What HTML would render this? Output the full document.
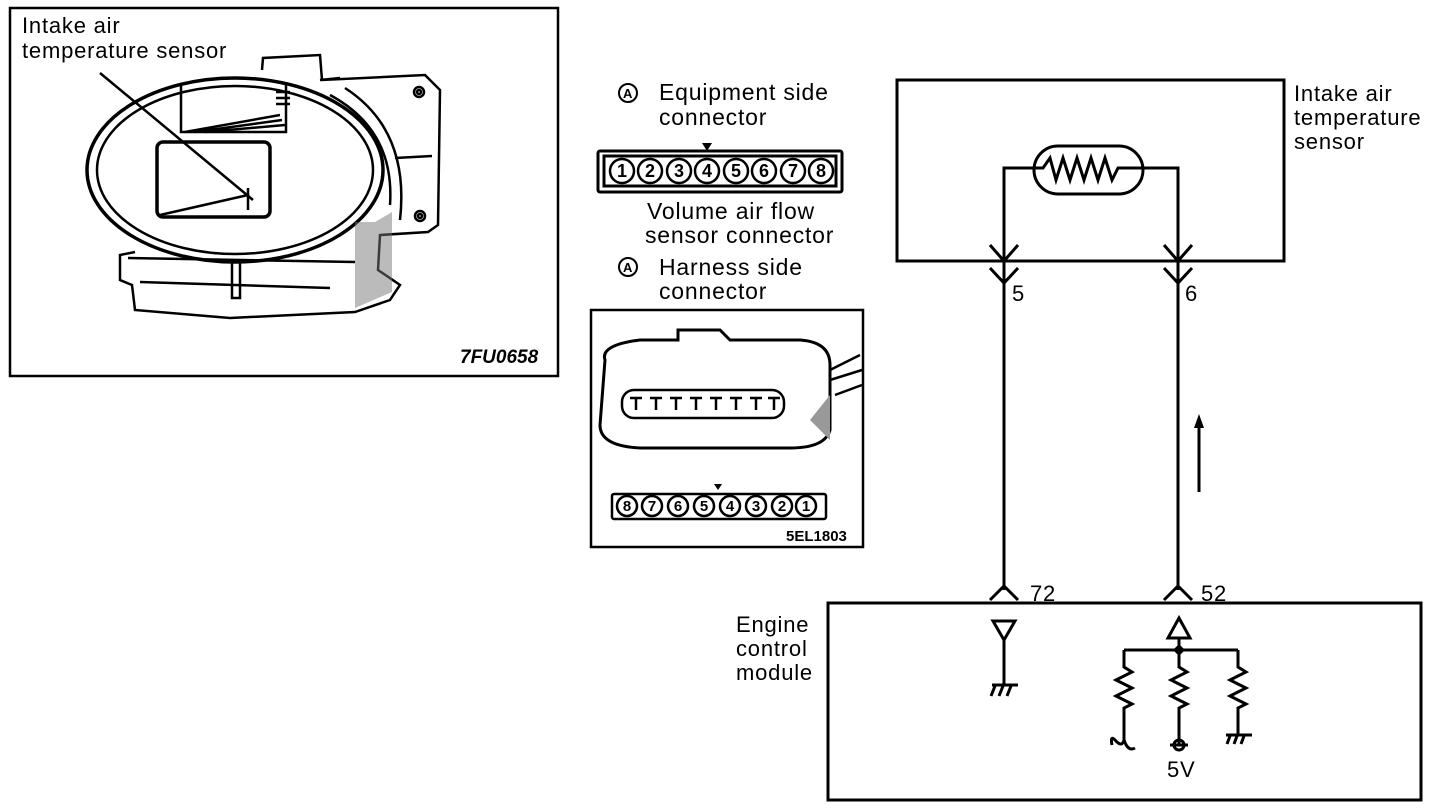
<!DOCTYPE html>
<html><head><meta charset="utf-8"><style>
html,body{margin:0;padding:0;background:#fff;}
svg{display:block;}
text{font-family:"Liberation Sans",sans-serif;fill:#000;}
</style></head><body>
<svg width="1440" height="808" viewBox="0 0 1440 808" xmlns="http://www.w3.org/2000/svg">
<g fill="none" stroke="#000" stroke-width="2.5">
<rect x="10" y="8" width="548" height="368"/>
<path d="M262 70 L263 58 L320 55 L322 80 L425 75 L440 90 L438 225 L428 232 L380 235 L378 270 L400 285 L390 300 L355 312 L230 318 L135 310 L132 285 L120 280 L120 255 L135 252"/>
<path d="M320 80 L340 78"/>
<ellipse cx="235" cy="170" rx="148" ry="92" stroke-width="3.5"/>
<ellipse cx="235" cy="170" rx="138" ry="84"/>
<path d="M330 95 Q395 130 390 205"/>
<path d="M345 88 Q410 130 400 220"/>
<rect x="157" y="142" width="113" height="75" rx="6" stroke-width="3.5"/>
<path d="M181 86 L181 132 L286 132 L286 82"/>
<path d="M185 132 L280 115 M195 132 L282 120 M205 132 L285 125"/>
<path d="M276 92 L290 92 M276 98 L290 98 M276 104 L290 104"/>
<circle cx="419" cy="92" r="5"/><circle cx="419" cy="92" r="2"/>
<circle cx="420" cy="216" r="5"/><circle cx="420" cy="216" r="2"/>
<path d="M395 158 L432 156"/>
<path d="M232 262 L232 298 L240 298 L240 262"/>
<path d="M128 258 L355 262 M140 282 L330 288"/>
<path d="M100 73 L253 200"/>
<path d="M160 215 L248 195 M248 188 L248 210"/>
</g>
<g fill="#777"><path d="M355 222 L375 222 L392 212 L392 292 L355 308 Z" opacity="0.5"/></g>
<g font-size="22" letter-spacing="0.8">
<text x="22" y="33">Intake air</text>
<text x="22" y="58">temperature sensor</text>
</g>
<text x="460" y="363" font-size="19" font-weight="bold" font-style="italic">7FU0658</text>

<g fill="none" stroke="#000" stroke-width="2">
<circle cx="628" cy="93" r="9"/><circle cx="628" cy="267" r="9"/>
</g>
<text x="623" y="98" font-size="13" font-weight="bold">A</text>
<text x="623" y="272" font-size="13" font-weight="bold">A</text>
<g font-size="23" letter-spacing="0.8">
<text x="659" y="100">Equipment side</text>
<text x="659" y="125">connector</text>
<text x="647" y="219">Volume air flow</text>
<text x="645" y="243">sensor connector</text>
<text x="659" y="275">Harness side</text>
<text x="659" y="299">connector</text>
</g>

<g fill="none" stroke="#000" stroke-width="3">
<rect x="598" y="151" width="244" height="41" rx="2"/>
<rect x="604" y="156" width="232" height="30"/>
</g>
<path d="M702 143 L712 143 L707 151 Z" fill="#000"/>
<g fill="none" stroke="#000" stroke-width="2.5">
<circle cx="622" cy="171" r="12"/><circle cx="650" cy="171" r="12"/><circle cx="679" cy="171" r="12"/><circle cx="707" cy="171" r="12"/>
<circle cx="736" cy="171" r="12"/><circle cx="764" cy="171" r="12"/><circle cx="793" cy="171" r="12"/><circle cx="821" cy="171" r="12"/>
</g>
<g font-size="18" text-anchor="middle" font-weight="bold">
<text x="622" y="177">1</text><text x="650" y="177">2</text><text x="679" y="177">3</text><text x="707" y="177">4</text>
<text x="736" y="177">5</text><text x="764" y="177">6</text><text x="793" y="177">7</text><text x="821" y="177">8</text>
</g>

<g fill="none" stroke="#000" stroke-width="2.5">
<rect x="591" y="310" width="272" height="237"/>
<path d="M605 360 Q600 345 640 340 L678 340 L678 330 L720 330 L730 340 L800 340 Q830 342 830 365 L830 430 Q825 448 790 448 L640 448 Q600 446 600 425 Z" stroke-width="3"/>
<rect x="622" y="390" width="162" height="28" rx="12"/>
<path d="M830 370 L860 355 M830 380 L862 370 M835 395 L862 385"/>
<path d="M630 398h12m-6 0v12 M650 398h12m-6 0v12 M670 398h12m-6 0v12 M690 398h12m-6 0v12 M710 398h12m-6 0v12 M730 398h12m-6 0v12 M750 398h12m-6 0v12 M768 398h12m-6 0v12"/>
<rect x="612" y="494" width="214" height="25" rx="2"/>
</g>
<path d="M810 420 L830 395 L830 440 Z" fill="#999"/>
<path d="M714 484 L722 484 L718 490 Z" fill="#000"/>
<g fill="none" stroke="#000" stroke-width="2.5">
<circle cx="627" cy="506" r="10"/><circle cx="652" cy="506" r="10"/><circle cx="678" cy="506" r="10"/><circle cx="704" cy="506" r="10"/>
<circle cx="730" cy="506" r="10"/><circle cx="756" cy="506" r="10"/><circle cx="782" cy="506" r="10"/><circle cx="806" cy="506" r="10"/>
</g>
<g font-size="15" text-anchor="middle" font-weight="bold">
<text x="627" y="511">8</text><text x="652" y="511">7</text><text x="678" y="511">6</text><text x="704" y="511">5</text>
<text x="730" y="511">4</text><text x="756" y="511">3</text><text x="782" y="511">2</text><text x="806" y="511">1</text>
</g>
<text x="786" y="541" font-size="15" font-weight="bold">5EL1803</text>

<g fill="none" stroke="#000" stroke-width="3">
<rect x="897" y="80" width="387" height="181"/>
<rect x="1034" y="146" width="109" height="48" rx="24"/>
<path d="M1004 590 L1004 168 L1043 168 L1050 158 L1056 180 L1063 158 L1070 180 L1077 158 L1084 180 L1091 158 L1098 180 L1105 158 L1112 180 L1118 168 L1178 168 L1178 590"/>
<path d="M990 245 L1004 261 L1018 245 M990 268 L1004 283 L1018 268"/>
<path d="M1164 245 L1178 261 L1192 245 M1164 268 L1178 283 L1192 268"/>
<path d="M1199 492 L1199 420"/>
<path d="M990 600 L1004 586 L1018 600 M1164 600 L1178 586 L1192 600"/>
<rect x="828" y="603" width="593" height="197"/>
<path d="M993 621 L1015 621 L1004 640 Z M1004 640 L1004 685"/>
<path d="M992 685 L1018 685 M995 686 L991 696 M1003 686 L999 696 M1011 686 L1007 696"/>
<path d="M1168 638 L1190 638 L1179 618 Z"/>
<path d="M1179 638 L1179 650 M1124 650 L1238 650"/>
<path d="M1124 650 L1124 667 L1132 672 L1116 680 L1132 688 L1116 696 L1132 704 L1124 708 L1124 740 Q1122 748 1115 740 Q1110 735 1112 745 M1124 740 Q1128 752 1135 748"/>
<path d="M1179 650 L1179 667 L1187 672 L1171 680 L1187 688 L1171 696 L1187 704 L1179 708 L1179 745"/>
<circle cx="1179" cy="745" r="5"/>
<path d="M1170 745 L1188 745"/>
<path d="M1238 650 L1238 667 L1246 672 L1230 680 L1246 688 L1230 696 L1246 704 L1238 708 L1238 735"/>
<path d="M1226 735 L1252 735 M1230 736 L1227 744 M1237 736 L1234 744 M1244 736 L1241 744"/>
</g>
<path d="M1199 414 L1194 428 L1204 428 Z" fill="#000"/>
<path d="M1179 644 L1185 650 L1179 656 L1173 650 Z" fill="#000"/>
<g font-size="22" letter-spacing="0.8">
<text x="1012" y="301">5</text><text x="1185" y="301">6</text>
<text x="1030" y="601">72</text><text x="1201" y="601">52</text>
<text x="1167" y="777">5V</text>
<text x="1294" y="101">Intake air</text>
<text x="1294" y="125">temperature</text>
<text x="1294" y="149">sensor</text>
<text x="736" y="632">Engine</text>
<text x="736" y="656">control</text>
<text x="736" y="680">module</text>
</g>
</svg>
</body></html>
